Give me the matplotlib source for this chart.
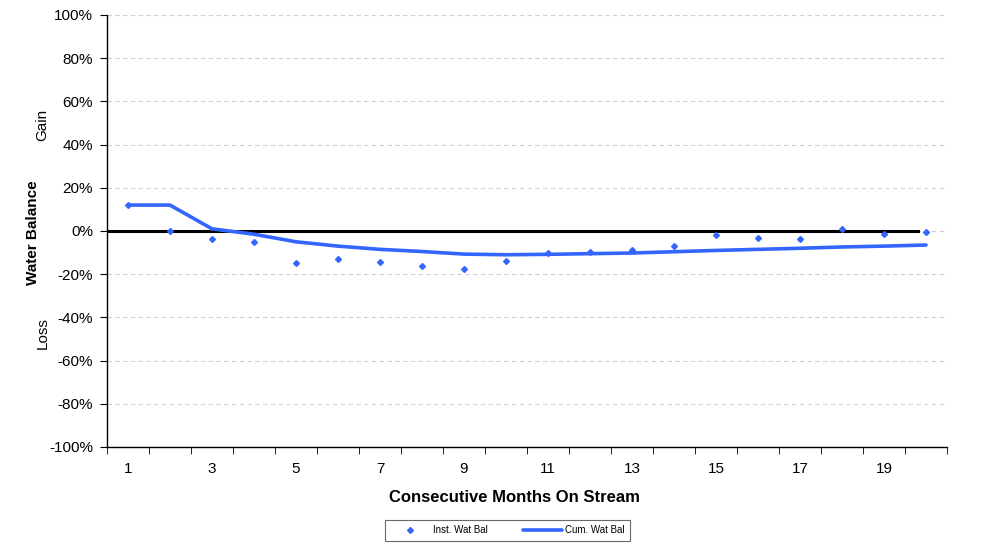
import matplotlib
matplotlib.use("Agg")
import matplotlib.pyplot as plt
from matplotlib.ticker import FuncFormatter, MultipleLocator

plt.rcParams['font.family'] = ['Liberation Sans', 'DejaVu Sans']

months = list(range(1, 21))
inst_wat_bal = [12, 0, -3.5, -5, -15, -13, -14.5, -16, -17.5, -14,
                -10, -9.6, -8.8, -6.8, -2, -3.2, -3.7, 1, -1.2, -0.5]
cum_wat_bal = [12, 12, 1, -1.5, -5, -7, -8.5, -9.5, -10.7, -11,
               -10.8, -10.5, -10.2, -9.6, -9, -8.5, -8, -7.4, -7, -6.5]
x_tick_labels = [str(m) for m in months[::2]]

color = '#3366FF'

fig = plt.figure(figsize=(9.84, 5.49), dpi=100)
ax = fig.add_axes([0.1087, 0.1858, 0.8537, 0.7869])

ax.plot(months, inst_wat_bal, linestyle='none', marker='D', markersize=3.0,
        color=color, label='Inst. Wat Bal', zorder=4)
ax.plot(months, cum_wat_bal, color=color, linewidth=2.6, label='Cum. Wat Bal',
        zorder=3, solid_capstyle='round')
ax.plot([0.5, 19.8], [0, 0], color='black', linewidth=2.2, zorder=2)

ax.set_xlim(0.5, 20.5)
ax.set_ylim(-100, 100)
ax.yaxis.set_major_locator(MultipleLocator(20))
ax.yaxis.set_major_formatter(FuncFormatter(lambda v, p: f"{int(round(v))}%"))
ax.set_xticks(months[::2])
ax.set_xticklabels(x_tick_labels)
ax.set_xticks([m + 0.5 for m in range(0, 21)], minor=True)
ax.tick_params(axis='x', which='major', length=0, pad=11, labelsize=11)
ax.tick_params(axis='x', which='minor', length=5, direction='out')
ax.tick_params(axis='y', length=5, direction='out', labelsize=11, pad=5)

ax.grid(axis='y', color='#d0d0d0', linestyle=(0, (4, 3)), linewidth=0.8)
ax.set_axisbelow(True)
for s in ['top', 'right']:
    ax.spines[s].set_visible(False)
ax.spines['left'].set_linewidth(1.0)
ax.spines['bottom'].set_linewidth(1.0)

fig.text(0.5223, 0.093, 'Consecutive Months On Stream', fontsize=12, fontweight='bold',
         ha='center', va='center')
fig.text(0.034, 0.577, 'Water Balance', rotation=90, fontsize=11,
         fontweight='bold', ha='center', va='center')
fig.text(0.043, 0.773, 'Gain', rotation=90, fontsize=11, ha='center', va='center')
fig.text(0.043, 0.393, 'Loss', rotation=90, fontsize=11, ha='center', va='center')

leg = ax.legend(loc='center', bbox_to_anchor=(0.3862, 0.0128, 0.2591, 0.0419),
                bbox_transform=fig.transFigure, mode='expand',
                ncol=2, fontsize=7, frameon=True, fancybox=False, edgecolor='#444444',
                handlelength=4.0, columnspacing=1.8, borderpad=0.6, handletextpad=0.3)
leg.get_frame().set_linewidth(0.8)

fig.savefig('out.png', dpi=100)
